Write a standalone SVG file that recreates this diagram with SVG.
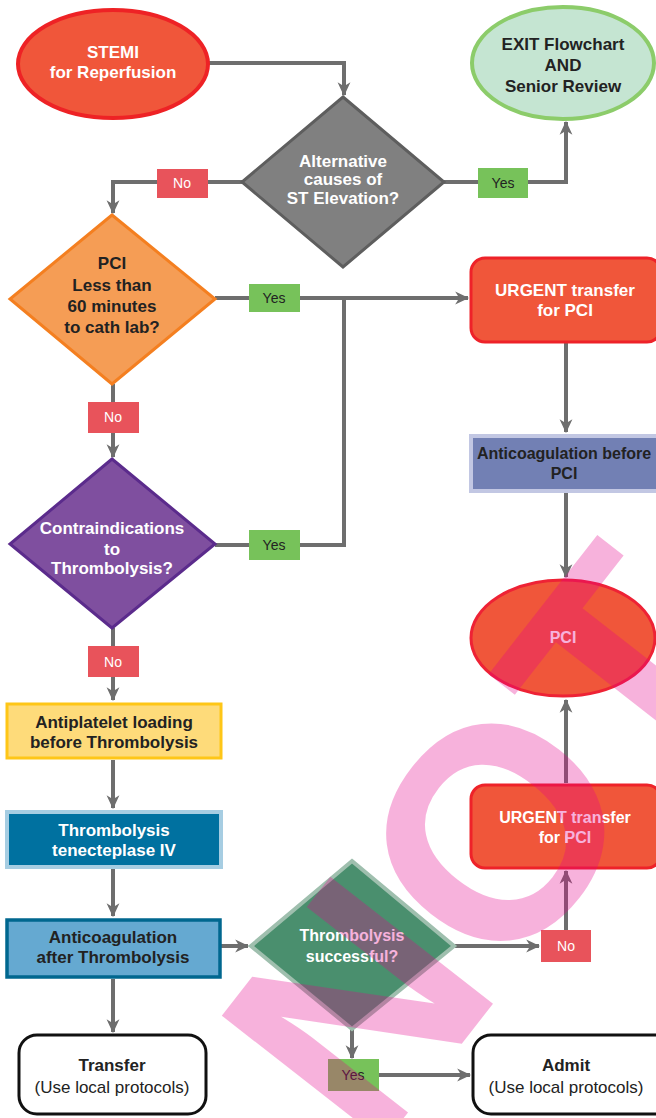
<svg xmlns="http://www.w3.org/2000/svg" width="656" height="1118" viewBox="0 0 656 1118">
<defs>
<marker id="arr" viewBox="0 0 12 12" refX="11" refY="6" markerWidth="14" markerHeight="14" markerUnits="userSpaceOnUse" orient="auto">
<path d="M0,0.5 L12,6 L0,11.5 L3.5,6 Z" fill="#6e6e6e"/>
</marker>
<style>
text{font-family:"Liberation Sans",Arial,sans-serif;text-anchor:middle}
.t{font-size:17px;font-weight:bold}
.s{font-size:16px;font-weight:bold}
.w{fill:#ffffff}
.d{fill:#222222}
.n{font-size:17px;font-weight:normal;fill:#222222}
.lbl{font-size:14px}
.conn path{fill:none;stroke:#6e6e6e;stroke-width:4}
.ar{marker-end:url(#arr)}
.red{fill:#f0563a;stroke:#ee2229;stroke-width:3}
.no{fill:#e8535b}
.yes{fill:#77c25a}
</style>
</defs>
<rect width="656" height="1118" fill="#ffffff"/>

<g id="connectors" class="conn">
<path class="ar" d="M209,63 H344 V95"/>
<path class="ar" d="M242,182 H113 V213"/>
<path class="ar" d="M444,182 H566 V122"/>
<path class="ar" d="M215,298 H468"/>
<path d="M215,545 H344 V298"/>
<path class="ar" d="M113,384 V457"/>
<path class="ar" d="M566,343 V432"/>
<path class="ar" d="M566,492 V577"/>
<path class="ar" d="M113,628 V700"/>
<path class="ar" d="M113,760 V808"/>
<path class="ar" d="M113,869 V916"/>
<path class="ar" d="M221,946 H248"/>
<path class="ar" d="M113,979 V1032"/>
<path class="ar" d="M455,946 H539"/>
<path class="ar" d="M566,930 V871"/>
<path class="ar" d="M566,783 V700"/>
<path class="ar" d="M352,1029 V1058"/>
<path class="ar" d="M379,1075 H470"/>
<g id="labels">
<rect class="no" x="157" y="169" width="51" height="29"/><text class="lbl w" x="182" y="188">No</text>
<rect class="yes" x="478" y="168" width="50" height="30"/><text class="lbl d" x="503" y="188">Yes</text>
<rect class="yes" x="249" y="284" width="51" height="28"/><text class="lbl d" x="274" y="303">Yes</text>
<rect class="no" x="88" y="402" width="51" height="31"/><text class="lbl w" x="113" y="422">No</text>
<rect class="yes" x="249" y="530" width="51" height="30"/><text class="lbl d" x="274" y="550">Yes</text>
<rect class="no" x="88" y="646" width="51" height="31"/><text class="lbl w" x="113" y="667">No</text>
<rect class="no" x="541" y="930" width="50" height="32"/><text class="lbl w" x="566" y="951">No</text>
<rect class="yes" x="328" y="1059" width="51" height="32"/><text class="lbl d" x="353" y="1080">Yes</text>
</g>
</g>

<g id="stemi">
<ellipse cx="113" cy="64" rx="95" ry="54" fill="#f0563a" stroke="#ee2225" stroke-width="4"/>
<text class="t w" x="113" y="58">STEMI</text>
<text class="t w" x="113" y="78">for Reperfusion</text>
</g>
<g id="exit">
<ellipse cx="563" cy="63" rx="91" ry="56" fill="#c5e5d2" stroke="#8ccc6a" stroke-width="4"/>
<text class="t d" x="563" y="50">EXIT Flowchart</text>
<text class="t d" x="563" y="71">AND</text>
<text class="t d" x="563" y="92">Senior Review</text>
</g>
<g id="alt">
<polygon points="343,97 444,182 343,267 242,182" fill="#808080" stroke="#5e5e5e" stroke-width="3"/>
<text class="t w" x="343" y="167">Alternative</text>
<text class="t w" x="343" y="185">causes of</text>
<text class="t w" x="343" y="204">ST Elevation?</text>
</g>
<g id="pci60">
<polygon points="112,215 215,299 112,384 10,299" fill="#f59d55" stroke="#f47f20" stroke-width="3"/>
<text class="t d" x="112" y="269">PCI</text>
<text class="t d" x="112" y="291">Less than</text>
<text class="t d" x="112" y="312">60 minutes</text>
<text class="t d" x="112" y="333">to cath lab?</text>
</g>
<g id="urgent1">
<rect class="red" x="471" y="258" width="190" height="84" rx="14"/>
<text class="t w" x="565" y="296">URGENT transfer</text>
<text class="t w" x="565" y="316">for PCI</text>
</g>
<g id="anticoagBefore">
<rect x="471" y="436" width="190" height="55" fill="#7280b4" stroke="#c2c7e3" stroke-width="4"/>
<text class="s d" x="564" y="459">Anticoagulation before</text>
<text class="s d" x="564" y="479">PCI</text>
</g>
<g id="contra">
<polygon points="112,459 215,544 112,628 10,544" fill="#7f4f9f" stroke="#5b2b8c" stroke-width="3"/>
<text class="t w" x="112" y="534">Contraindications</text>
<text class="t w" x="112" y="555">to</text>
<text class="t w" x="112" y="574">Thrombolysis?</text>
</g>
<g id="pci">
<ellipse cx="563" cy="638" rx="92" ry="58" fill="#f0563a" stroke="#ee2235" stroke-width="3"/>
<text class="s w" x="563" y="643">PCI</text>
</g>
<g id="antiplatelet">
<rect x="7" y="704" width="214" height="54" fill="#fedb7a" stroke="#fec617" stroke-width="3"/>
<text class="t d" x="114" y="728">Antiplatelet loading</text>
<text class="t d" x="114" y="748">before Thrombolysis</text>
</g>
<g id="thrombolysis">
<rect x="7" y="812" width="214" height="55" fill="#0071a0" stroke="#a6cde2" stroke-width="4"/>
<text class="t w" x="114" y="836">Thrombolysis</text>
<text class="t w" x="114" y="856">tenecteplase IV</text>
</g>
<g id="urgent2">
<rect class="red" x="471" y="785" width="190" height="83" rx="14"/>
<text class="s w" x="565" y="823">URGENT transfer</text>
<text class="s w" x="565" y="843">for PCI</text>
</g>
<g id="anticoagAfter">
<rect x="7" y="920" width="213" height="57" fill="#65a9d1" stroke="#00678f" stroke-width="3.5"/>
<text class="t d" x="113" y="943">Anticoagulation</text>
<text class="t d" x="113" y="963">after Thrombolysis</text>
</g>
<g id="success">
<polygon points="352,861 454,946 352,1029 251,946" fill="#4a8f6e" stroke="#9fbfae" stroke-width="4"/>
<text class="s w" x="352" y="941">Thrombolysis</text>
<text class="s w" x="352" y="962">successful?</text>
</g>
<g id="transfer">
<rect x="19" y="1035" width="187" height="79" rx="18" fill="#ffffff" stroke="#111111" stroke-width="3"/>
<text class="t d" x="112" y="1071">Transfer</text>
<text class="n" x="112" y="1093">(Use local protocols)</text>
</g>
<g id="admit">
<rect x="473" y="1035" width="200" height="79" rx="18" fill="#ffffff" stroke="#111111" stroke-width="3"/>
<text class="t d" x="566" y="1071">Admit</text>
<text class="n" x="566" y="1093">(Use local protocols)</text>
</g>

<g id="watermark">
<text x="567" y="909" transform="rotate(-52 567 909)" style="font-size:300px;font-weight:bold;fill:#e6008c;fill-opacity:0.3">NOT</text>
</g>
</svg>
